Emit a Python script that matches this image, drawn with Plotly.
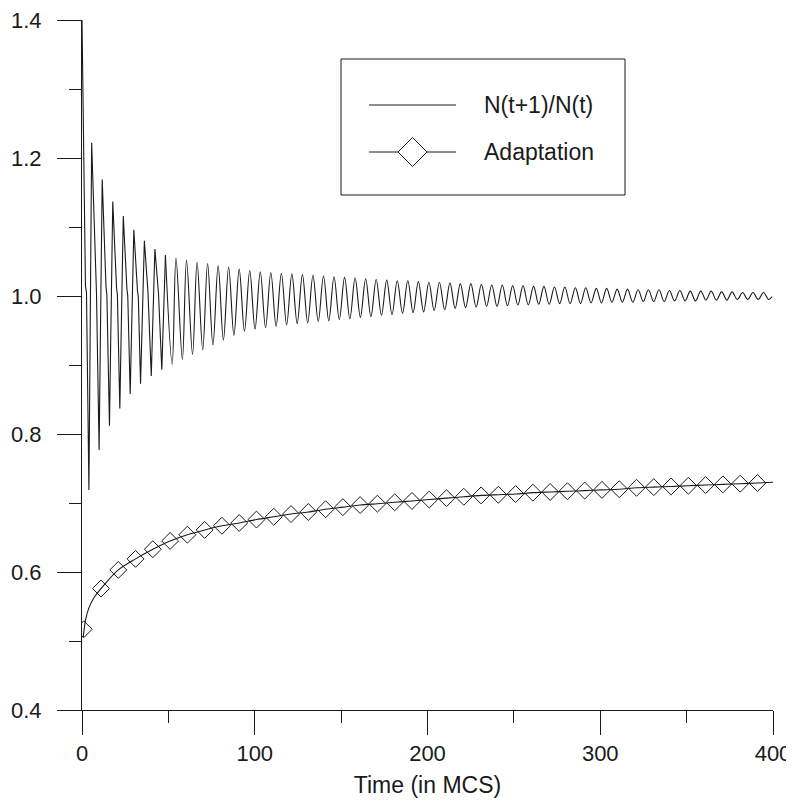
import plotly.graph_objects as go

# ---------------- data ----------------
# N(t+1)/N(t): local maxima (time, value)
peak_t = [5.6, 11.7, 17.8, 23.9, 30.0, 36.1, 42.2, 48.3, 54.4, 60.5, 66.6, 72.7, 78.8,
          84.9, 91.0, 97.1, 103.2, 109.3, 115.4, 121.5, 127.6, 133.7, 139.8, 145.9,
          152.0, 158.1, 164.2, 170.3, 176.4, 182.5, 188.6, 194.7, 200.8, 206.9, 213.0,
          219.0, 225.1, 231.2, 237.2, 243.3, 249.3, 255.3, 261.4, 267.4, 273.5, 279.5,
          285.6, 291.6, 297.7, 303.7, 309.8, 315.8, 321.9, 327.9, 334.0, 340.0, 346.1,
          352.1, 358.2, 364.2, 370.3, 376.3, 382.4, 388.4, 394.5]
peak_v = [1.222, 1.169, 1.137, 1.116, 1.096, 1.080, 1.068, 1.059, 1.055, 1.052, 1.049,
          1.047, 1.044, 1.042, 1.039, 1.037, 1.035, 1.034, 1.033, 1.032, 1.031, 1.030,
          1.029, 1.028, 1.027, 1.026, 1.025, 1.024, 1.023, 1.022, 1.022, 1.021, 1.020,
          1.020, 1.019, 1.018, 1.018, 1.017, 1.016, 1.016, 1.015, 1.015, 1.014, 1.014,
          1.013, 1.013, 1.012, 1.012, 1.011, 1.011, 1.010, 1.010, 1.009, 1.009, 1.009,
          1.008, 1.008, 1.007, 1.007, 1.007, 1.006, 1.006, 1.005, 1.005, 1.005]
# local minima (time, value)
trough_t = [4.0, 9.9, 15.9, 21.9, 27.9, 33.9, 40.1, 46.2, 52.2, 58.1, 64.0, 69.9, 75.8,
            81.85, 87.95, 94.05, 100.15, 106.25, 112.35, 118.45, 124.55, 130.65, 136.75,
            142.85, 148.95, 155.05, 161.15, 167.25, 173.35, 179.45, 185.55, 191.65,
            197.75, 203.85, 209.95, 216.0, 222.05, 228.15, 234.2, 240.25, 246.3, 252.3,
            258.35, 264.4, 270.45, 276.5, 282.55, 288.6, 294.65, 300.7, 306.75, 312.8,
            318.85, 324.9, 330.95, 337.0, 343.05, 349.1, 355.15, 361.2, 367.25, 373.3,
            379.35, 385.4, 391.45, 397.5]
trough_v = [0.719, 0.777, 0.812, 0.837, 0.858, 0.873, 0.884, 0.893, 0.901, 0.908, 0.915,
            0.922, 0.929, 0.936, 0.943, 0.949, 0.952, 0.954, 0.956, 0.958, 0.960, 0.961,
            0.963, 0.964, 0.966, 0.967, 0.969, 0.970, 0.972, 0.973, 0.975, 0.976, 0.977,
            0.979, 0.980, 0.982, 0.983, 0.984, 0.985, 0.985, 0.986, 0.987, 0.987, 0.988,
            0.988, 0.989, 0.989, 0.989, 0.990, 0.990, 0.991, 0.991, 0.991, 0.992, 0.992,
            0.992, 0.993, 0.993, 0.993, 0.994, 0.994, 0.994, 0.995, 0.995, 0.995, 0.995]
# start / end points and the kinks after the early spikes
extra_t = [0.0, 2.0, 2.6, 7.9, 8.4, 13.9, 14.4, 20.0, 20.5, 26.0, 26.5, 32.1, 32.6,
           38.2, 44.3, 399.5]
extra_v = [1.400, 1.015, 1.005, 1.015, 1.003, 1.013, 1.002, 1.012, 1.001, 1.010, 1.000,
           1.008, 0.998, 1.005, 1.003, 0.999]

# Adaptation: line samples and marker samples
adapt_line_t = [0.7, 2, 4, 7, 11, 21, 31, 41, 51, 61, 71, 81, 91, 101, 111, 121, 131,
                141, 151, 161, 171, 181, 191, 201, 211, 221, 231, 241, 251, 261, 271,
                281, 291, 301, 311, 321, 331, 341, 351, 361, 371, 381, 391, 400]
adapt_line_v = [0.505, 0.530, 0.548, 0.563, 0.576, 0.603, 0.619, 0.633, 0.645, 0.654,
                0.661, 0.667, 0.671, 0.676, 0.680, 0.684, 0.687, 0.691, 0.694, 0.697,
                0.699, 0.701, 0.703, 0.705, 0.707, 0.709, 0.711, 0.712, 0.713, 0.715,
                0.716, 0.717, 0.718, 0.719, 0.720, 0.722, 0.723, 0.724, 0.725, 0.726,
                0.727, 0.728, 0.729, 0.730]
adapt_mark_t = [1, 11, 21, 31, 41, 51, 61, 71, 81, 91, 101, 111, 121, 131, 141, 151,
                161, 171, 181, 191, 201, 211, 221, 231, 241, 251, 261, 271, 281, 291,
                301, 311, 321, 331, 341, 351, 361, 371, 381, 391]
adapt_mark_v = [0.517, 0.576, 0.603, 0.619, 0.633, 0.645, 0.654, 0.661, 0.667, 0.671,
                0.676, 0.680, 0.684, 0.687, 0.691, 0.694, 0.697, 0.699, 0.701, 0.703,
                0.705, 0.707, 0.709, 0.711, 0.712, 0.713, 0.715, 0.716, 0.717, 0.718,
                0.719, 0.720, 0.722, 0.723, 0.724, 0.725, 0.726, 0.727, 0.728, 0.729]

x_tick_vals = [0, 100, 200, 300, 400]
y_tick_vals = [0.4, 0.6, 0.8, 1.0, 1.2, 1.4]
y_tick_text = ["0.4", "0.6", "0.8", "1.0", "1.2", "1.4"]
legend_labels = ["N(t+1)/N(t)", "Adaptation"]
x_title = "Time (in MCS)"

# ---------------- build ----------------
pts = sorted(zip(peak_t + trough_t + extra_t, peak_v + trough_v + extra_v))
split = 48.3
early = [p for p in pts if p[0] <= split]
late = [p for p in pts if p[0] >= split]

INK = "#1a1a1a"
FONT = "Liberation Sans, Arial, sans-serif"

fig = go.Figure()
fig.add_trace(go.Scatter(x=[p[0] for p in early], y=[p[1] for p in early], mode="lines",
                         line=dict(color=INK, width=1.1), showlegend=False))
fig.add_trace(go.Scatter(x=[p[0] for p in late], y=[p[1] for p in late], mode="lines",
                         line=dict(color=INK, width=1.1, shape="spline", smoothing=1.0),
                         showlegend=False))
fig.add_trace(go.Scatter(x=adapt_line_t, y=adapt_line_v, mode="lines",
                         line=dict(color=INK, width=1.1, shape="spline", smoothing=0.8),
                         showlegend=False))
fig.add_trace(go.Scatter(x=adapt_mark_t, y=adapt_mark_v, mode="markers",
                         marker=dict(symbol="diamond-open", size=13,
                                     color=INK, line=dict(width=1, color=INK)),
                         showlegend=False))

# the page body adds an 8 px offset; plot area wanted at screen x 82..773, y 20..710
OFF = 8
SL, SR, ST, SB = 82, 773, 20, 710
W, H = 794 - OFF, 806 - 2 * OFF
L, T = SL - OFF, ST - OFF
R, B = W - (SR - OFF), H - (SB - OFF)
pw, ph = SR - SL, SB - ST


def px(x):
    return (x - SL) / pw


def py(y):
    return (SB - y) / ph


shapes = []
# legend box
shapes.append(dict(type="rect", xref="paper", yref="paper", x0=px(341), x1=px(625),
                   y0=py(195), y1=py(59), line=dict(color=INK, width=1)))
# legend line samples
for yy in (105, 152):
    shapes.append(dict(type="line", xref="paper", yref="paper", x0=px(369), x1=px(456),
                       y0=py(yy), y1=py(yy), line=dict(color=INK, width=1)))
# legend diamond
cx, cy, r = 412.5, 152, 14.5
path = "M {a},{b} L {c},{d} L {e},{f} L {g},{h} Z".format(
    a=px(cx - r), b=py(cy), c=px(cx), d=py(cy - r), e=px(cx + r), f=py(cy),
    g=px(cx), h=py(cy + r))
shapes.append(dict(type="path", xref="paper", yref="paper", path=path,
                   line=dict(color=INK, width=1), fillcolor="white"))

annotations = []
for lab, yy in zip(legend_labels, (105, 152)):
    annotations.append(dict(text=lab, xref="paper", yref="paper", x=px(482), y=py(yy),
                            xanchor="left", yanchor="middle", showarrow=False,
                            font=dict(family=FONT, size=23, color=INK)))

fig.update_layout(
    width=W, height=H,
    margin=dict(l=L, r=R, t=T, b=B, autoexpand=False),
    paper_bgcolor="white", plot_bgcolor="white",
    shapes=shapes, annotations=annotations,
    showlegend=False,
    font=dict(family=FONT, size=22, color=INK),
)
fig.update_xaxes(range=[0, 400], tickvals=x_tick_vals, ticks="outside", ticklen=24,
                 tickcolor=INK, tickwidth=1, showline=True, linecolor=INK, linewidth=1,
                 showgrid=False, zeroline=False, ticklabelstandoff=0, automargin=False,
                 ticklabeloverflow="allow",
                 minor=dict(dtick=50, ticks="outside", ticklen=12, tickcolor=INK,
                            tickwidth=1, showgrid=False),
                 title=dict(text=x_title, standoff=15, font=dict(family=FONT, size=23)),
                 tickfont=dict(family=FONT, size=22))
fig.update_yaxes(range=[0.4, 1.4], tickvals=y_tick_vals, ticktext=y_tick_text,
                 ticks="outside", ticklen=24, tickcolor=INK, tickwidth=1,
                 showline=True, linecolor=INK, linewidth=1, showgrid=False,
                 zeroline=False, ticklabelstandoff=11, automargin=False,
                 ticklabeloverflow="allow",
                 minor=dict(dtick=0.1, ticks="outside", ticklen=12, tickcolor=INK,
                            tickwidth=1, showgrid=False),
                 tickfont=dict(family=FONT, size=22))

fig.write_html("out.html")
